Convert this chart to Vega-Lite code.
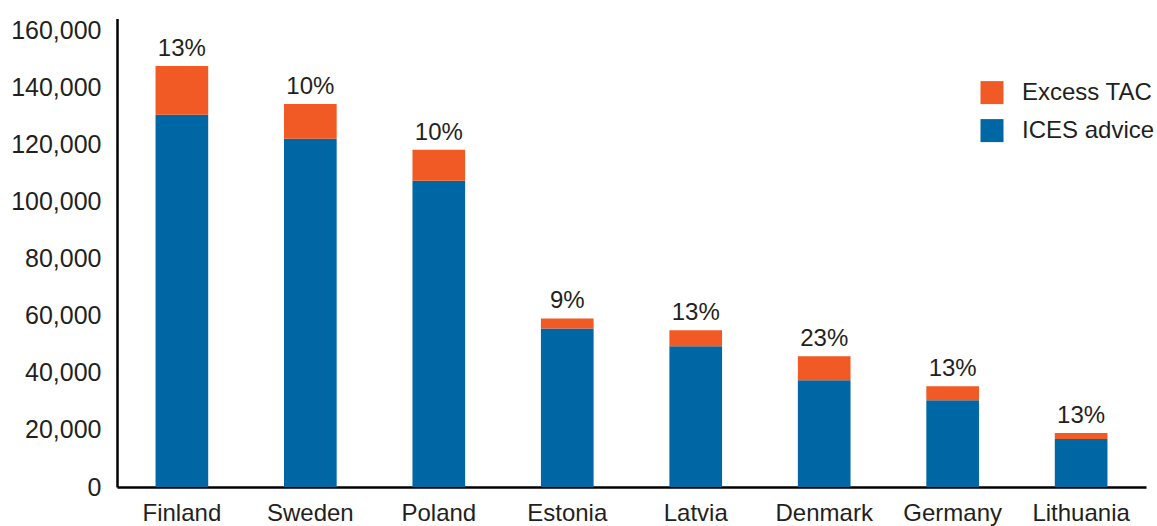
{
  "$schema": "https://vega.github.io/schema/vega-lite/v6.json",
  "autosize": "none",
  "padding": {"left": 117, "top": 18.6, "right": 11, "bottom": 39},
  "width": 1029,
  "height": 468.4,
  "background": "white",
  "config": {
    "view": {"stroke": null},
    "font": "Liberation Sans",
    "text": {"font": "Liberation Sans"}
  },
  "data": {
    "values": [
      {"country": "Finland", "type": "ICES advice", "value": 130300, "pct": "13%"},
      {"country": "Finland", "type": "Excess TAC", "value": 17100, "pct": "13%"},
      {"country": "Sweden", "type": "ICES advice", "value": 121900, "pct": "10%"},
      {"country": "Sweden", "type": "Excess TAC", "value": 12200, "pct": "10%"},
      {"country": "Poland", "type": "ICES advice", "value": 107200, "pct": "10%"},
      {"country": "Poland", "type": "Excess TAC", "value": 10900, "pct": "10%"},
      {"country": "Estonia", "type": "ICES advice", "value": 55500, "pct": "9%"},
      {"country": "Estonia", "type": "Excess TAC", "value": 3500, "pct": "9%"},
      {"country": "Latvia", "type": "ICES advice", "value": 49300, "pct": "13%"},
      {"country": "Latvia", "type": "Excess TAC", "value": 5600, "pct": "13%"},
      {"country": "Denmark", "type": "ICES advice", "value": 37400, "pct": "23%"},
      {"country": "Denmark", "type": "Excess TAC", "value": 8400, "pct": "23%"},
      {"country": "Germany", "type": "ICES advice", "value": 30400, "pct": "13%"},
      {"country": "Germany", "type": "Excess TAC", "value": 4900, "pct": "13%"},
      {"country": "Lithuania", "type": "ICES advice", "value": 16800, "pct": "13%"},
      {"country": "Lithuania", "type": "Excess TAC", "value": 2100, "pct": "13%"}
    ]
  },
  "encoding": {
    "x": {
      "field": "country",
      "type": "nominal",
      "sort": null,
      "scale": {"paddingInner": 0.59, "paddingOuter": 0.3},
      "axis": {
        "title": null,
        "labelAngle": 0,
        "labelFontSize": 24,
        "labelColor": "#231f20",
        "ticks": false,
        "labelPadding": 14,
        "domainColor": "#000000",
        "domainWidth": 2.5
      }
    }
  },
  "layer": [
    {
      "mark": {"type": "bar"},
      "encoding": {
        "y": {
          "field": "value",
          "type": "quantitative",
          "stack": "zero",
          "scale": {"domain": [0, 164000], "nice": false},
          "axis": {
            "title": null,
            "values": [0, 20000, 40000, 60000, 80000, 100000, 120000, 140000, 160000],
            "format": ",d",
            "grid": false,
            "ticks": false,
            "labelFontSize": 25,
            "labelColor": "#231f20",
            "labelPadding": 16,
            "domainColor": "#000000",
            "domainWidth": 2.5
          }
        },
        "color": {
          "field": "type",
          "type": "nominal",
          "scale": {"domain": ["Excess TAC", "ICES advice"], "range": ["#f15a24", "#0067a5"]},
          "legend": {
            "title": null,
            "orient": "none",
            "legendX": 863,
            "legendY": 62,
            "symbolType": "square",
            "symbolSize": 529,
            "symbolStrokeWidth": 0,
            "labelFontSize": 24,
            "labelColor": "#231f20",
            "labelOffset": 18,
            "rowPadding": 14
          }
        },
        "order": {"field": "type", "sort": "descending"}
      }
    },
    {
      "mark": {"type": "text", "baseline": "alphabetic", "dy": -10, "fontSize": 24, "color": "#231f20"},
      "encoding": {
        "y": {"aggregate": "sum", "field": "value", "type": "quantitative"},
        "text": {"field": "pct", "type": "nominal"}
      }
    }
  ]
}
